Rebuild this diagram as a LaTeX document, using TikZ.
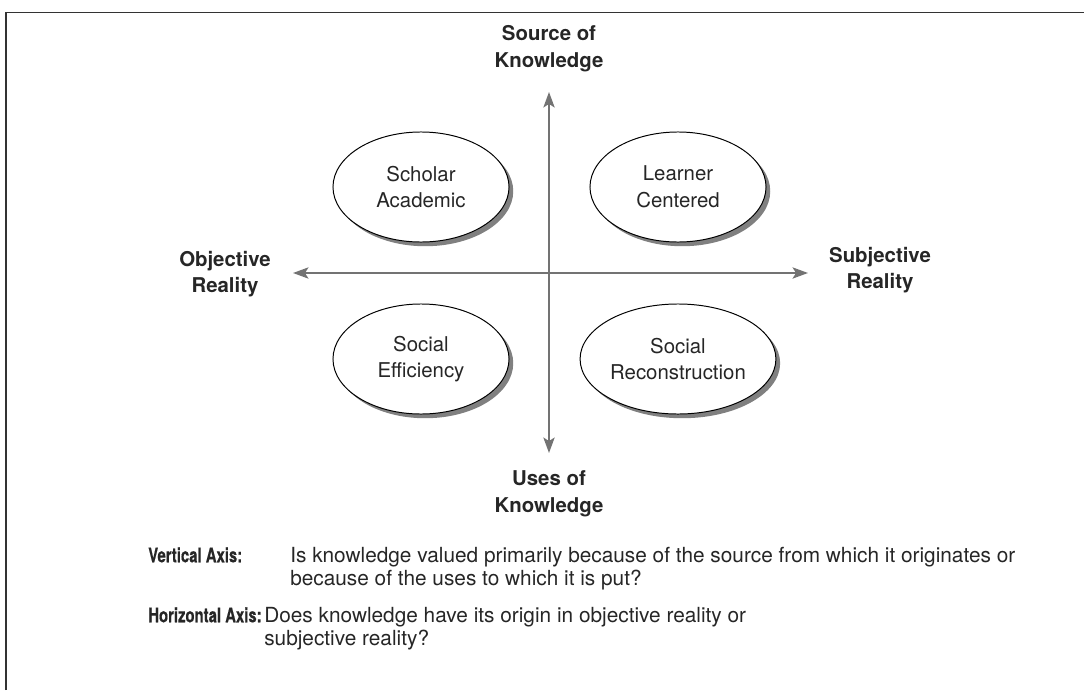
\documentclass[tikz,border=0pt]{standalone}
\usepackage{fontspec}
\setmainfont{TeX Gyre Heros}
\newfontfamily\narrowfont[FakeStretch=0.74, FakeBold=0.4]{TeX Gyre Heros}
\usetikzlibrary{arrows.meta,positioning,shapes.geometric,shadows}
\tikzset{
  orient/.style={ellipse, draw, fill=white, line width=0.7pt, minimum width=4.4cm, minimum height=2.75cm, inner sep=1pt, align=center, text=black!85, font=\fontsize{14.5}{19}\selectfont, drop shadow={shadow xshift=3pt, shadow yshift=-3pt, fill=black!50, opacity=1}},
  axislabel/.style={align=center, text=black!85, font=\bfseries\fontsize{14.5}{19}\selectfont},
  axisline/.style={{Stealth[length=11pt,width=8pt,inset=2.5pt]}-{Stealth[length=11pt,width=8pt,inset=2.5pt]}, line width=1.4pt, draw=black!55, fill=black!55},
  keyterm/.style={anchor=north west, inner sep=0pt, text=black!85, font=\narrowfont\bfseries\fontsize{14.3}{16.5}\selectfont},
  keytext/.style={anchor=north west, inner sep=0pt, align=left, text=black!85, font=\fontsize{14.8}{16.5}\selectfont}
}
\begin{document}
\begin{tikzpicture}[x=0.025cm, y=-0.025cm]
  \useasboundingbox (0,0) rectangle (1084,690);
  \draw[line width=1pt, black!80] (6,690) -- (6,12.5) -- (1084,12.5);
  \coordinate (top) at (549,92);
  \coordinate (bottom) at (549,453);
  \coordinate (left) at (293,273);
  \coordinate (right) at (808,273);
  \draw[axisline] (top) -- (bottom);
  \draw[axisline] (left) -- (right);
  \node[axislabel] (source) at (549,49) {Source of\\Knowledge};
  \node[axislabel] (uses) at (549,494) {Uses of\\Knowledge};
  \node[axislabel] (objective) at (225,274) {Objective\\Reality};
  \node[axislabel] (subjective) at (880,270) {Subjective\\Reality};
  \node[orient] (scholar) at (421,187) {Scholar\\Academic};
  \node[orient] (learner) at (678,187) {Learner\\Centered};
  \node[orient] (efficiency) at (421,359) {Social\\Efficiency};
  \node[orient] (reconstruction) at (678,359) {Social\\Reconstruction};
  \node[keyterm] (vertical) at (148,547) {Vertical Axis:};
  \node[keytext] (verticaltext) at (290,547) {Is knowledge valued primarily because of the source from which it originates or\\because of the uses to which it is put?};
  \node[keyterm] (horizontal) at (148,607) {Horizontal Axis:};
  \node[keytext] (horizontaltext) at (264,607) {Does knowledge have its origin in objective reality or\\subjective reality?};
\end{tikzpicture}
\end{document}
